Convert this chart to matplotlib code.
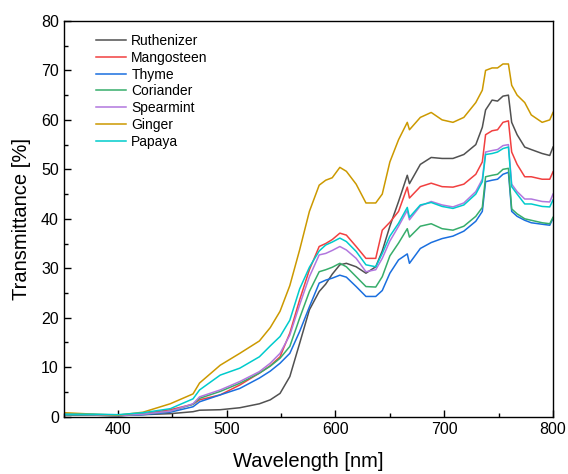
import matplotlib.pyplot as plt

plt.rcParams['font.family'] = ['Liberation Sans', 'DejaVu Sans']

# wavelength grid (nm)
wl = [350, 378, 400, 423, 448, 469, 475, 494, 512, 530, 540, 549, 558, 567, 576, 585,
      591, 597, 604, 610, 619, 628, 637, 643, 650, 658, 666, 668,
      678, 688, 698, 708, 718, 729, 735, 738, 744, 749, 754, 759, 762, 767, 774, 780,
      790, 797, 800]

ruthenizer = [0.4, 0.3, 0.2, 0.4, 0.6, 1.0, 1.3, 1.4, 1.8, 2.6, 3.4, 4.7, 8.1, 14.8, 21.6, 25.3,
              26.8, 28.8, 30.7, 31, 30.3, 29, 30.3, 33.5, 38.5, 43.5, 48.8, 47.1,
              51, 52.4, 52.2, 52.2, 53, 55, 58.5, 62, 64, 63.8, 64.8, 65, 59.5, 57, 54.5, 54,
              53.2, 52.8, 54.5]
mangosteen = [0.5, 0.4, 0.2, 0.6, 1.4, 2.5, 3.4, 4.4, 6.4, 8.8, 10.3, 12.1, 16.9, 23.6, 29.7, 34.4,
              35, 35.8, 37.1, 36.7, 34.4, 32, 32, 37.7, 39.3, 41.5, 46.4, 44.2,
              46.5, 47.2, 46.5, 46.4, 47, 49, 51.5, 57, 57.8, 58, 59.5, 59.8, 53.5, 51, 48.5, 48.5,
              48, 48, 49.5]
thyme = [0.4, 0.3, 0.2, 0.4, 0.9, 2.0, 3.0, 4.4, 5.7, 7.8, 9.2, 10.8, 12.8, 17.2, 22.2, 27,
         27.6, 28, 28.6, 28.2, 26.3, 24.3, 24.3, 25.5, 29, 31.7, 32.9, 31,
         34, 35.2, 36, 36.5, 37.5, 39.5, 41.5, 47.5, 47.8, 48, 49, 49.4, 41.5, 40.5, 39.7, 39.2,
         38.9, 38.7, 40.1]
coriander = [0.4, 0.3, 0.2, 0.5, 1.1, 2.5, 3.7, 5.1, 6.75, 8.8, 10.2, 11.8, 14.2, 19.9, 25.3, 29.3,
             29.7, 30.2, 31, 30.3, 28.3, 26.3, 26.2, 28.3, 32.5, 35.1, 38, 36.3,
             38.5, 39, 38, 37.7, 38.5, 40.5, 42.3, 48.5, 48.8, 49, 50, 50.2, 42, 41, 40, 39.7,
             39.2, 39, 40.3]
spearmint = [0.5, 0.4, 0.2, 0.5, 1.1, 2.6, 4.0, 5.4, 7.1, 9.1, 10.8, 12.8, 16.5, 22.6, 28.3, 32.7,
             33, 33.6, 34.4, 33.7, 32, 29.3, 29.7, 32, 35.5, 38.5, 41.7, 39.8,
             42.6, 43.5, 42.8, 42.4, 43.2, 45.5, 48, 53.5, 53.8, 54, 54.8, 55, 47, 45.5, 44, 44,
             43.5, 43.4, 45]
ginger = [0.8, 0.5, 0.3, 0.9, 2.6, 4.6, 6.8, 10.4, 12.8, 15.3, 18, 21.3, 26.5, 33.7, 41.5, 46.8,
          47.8, 48.3, 50.4, 49.6, 47, 43.2, 43.2, 45, 51.5, 56, 59.5, 58,
          60.5, 61.5, 60, 59.5, 60.5, 63.5, 66, 70, 70.5, 70.5, 71.3, 71.3, 67, 65, 63.5, 61,
          59.5, 60, 61.5]
papaya = [0.5, 0.5, 0.4, 0.8, 1.6, 3.6, 5.4, 8.4, 9.8, 12.1, 14.3, 16.2, 19.5, 25.8, 30.2, 33.5,
          34.7, 35.3, 36.1, 35.4, 33.4, 30.7, 30.3, 33, 36.5, 39.1, 42.3, 40.3,
          42.8, 43.3, 42.5, 42.1, 42.8, 45, 47.5, 53, 53.2, 53.5, 54.2, 54.5, 46.5, 45, 43, 43,
          42.5, 42.4, 43.8]

names = ['Ruthenizer', 'Mangosteen', 'Thyme', 'Coriander', 'Spearmint', 'Ginger', 'Papaya']
series = [ruthenizer, mangosteen, thyme, coriander, spearmint, ginger, papaya]
colors = ['#515151', '#F14040', '#1A6FDF', '#37AD6B', '#B177DE', '#CC9900', '#00CBCC']

fig = plt.figure(figsize=(5.68, 4.74), dpi=100)
ax = fig.add_axes([0.112, 0.121, 0.8616, 0.8348])

for name, ys, c in zip(names, series, colors):
    ax.plot(wl, ys, color=c, lw=1.1, label=name)

ax.set_xlim(350, 800)
ax.set_ylim(0, 80)
ax.set_xticks([400, 500, 600, 700, 800])
ax.set_xticks([350, 450, 550, 650, 750], minor=True)
ax.set_yticks(range(0, 81, 10))
ax.set_yticks(range(5, 80, 10), minor=True)
ax.tick_params(which='both', direction='in', labelsize=11.5, width=1.0)
ax.tick_params(which='major', length=5)
ax.tick_params(which='minor', length=3)
for s in ax.spines.values():
    s.set_linewidth(1.0)

ax.set_xlabel('Wavelength [nm]', fontsize=14.5, labelpad=11)
ax.set_ylabel('Transmittance [%]', fontsize=14.5, labelpad=7)

ax.legend(loc='upper left', bbox_to_anchor=(0.066, 0.967), frameon=False, fontsize=10,
          borderpad=0, borderaxespad=0, handlelength=2.2, handletextpad=0.35, labelspacing=0.2)

fig.savefig('out.png', dpi=100)
